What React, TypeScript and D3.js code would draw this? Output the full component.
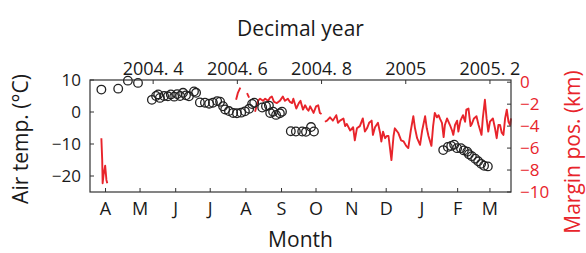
import * as d3 from "d3";

// ---------- Data ----------

// Air temperature samples: [decimal year, °C]
const tempTime = [
  2004.277, 2004.317, 2004.34, 2004.364, 2004.397, 2004.407, 2004.412, 2004.416,
  2004.426, 2004.435, 2004.442, 2004.45, 2004.457, 2004.464, 2004.471, 2004.478,
  2004.485, 2004.497, 2004.502, 2004.511, 2004.523, 2004.533, 2004.542, 2004.552,
  2004.559, 2004.566, 2004.571, 2004.58, 2004.59, 2004.599, 2004.609, 2004.618,
  2004.628, 2004.635, 2004.64, 2004.659, 2004.668, 2004.675, 2004.678, 2004.685,
  2004.692, 2004.701, 2004.706, 2004.727, 2004.739, 2004.754, 2004.763, 2004.775,
  2004.782, 2005.089, 2005.1, 2005.108, 2005.115, 2005.122, 2005.131, 2005.138,
  2005.146, 2005.15, 2005.157, 2005.165, 2005.172, 2005.179, 2005.186, 2005.195,
];
const tempValue = [
  7.0, 7.3, 9.8, 9.1, 3.8, 5.0, 5.5, 4.4,
  5.0, 4.9, 5.5, 4.8, 5.6, 5.0, 6.0, 5.2,
  4.9, 6.4, 6.0, 3.0, 2.9, 2.6, 2.9, 3.4,
  3.2, 1.8, 0.8, 0.3, -0.3, -0.4, -0.2, 0.2,
  1.0, 2.5, 2.9, 1.4, 1.8, 2.0, -0.3, 0.1,
  -0.9, -0.4, 0.1, -6.0, -6.1, -6.1, -6.2, -4.7,
  -6.1, -11.9, -10.9, -10.6, -10.2, -11.3, -11.3, -12.0,
  -12.4, -13.2, -13.8, -14.6, -15.4, -16.2, -16.8, -17.0,
];

// Glacier margin position, in separate runs: [decimal year, km]
const marginRunA: [number, number][] = [
  [2004.277, -5.1], [2004.279, -7.1], [2004.28, -9.2], [2004.282, -8.5],
  [2004.286, -7.6], [2004.289, -8.9], [2004.291, -9.2],
];
const marginRunB: [number, number][] = [
  [2004.597, -1.6], [2004.601, -1.0], [2004.607, -0.5],
];
const marginRunC: [number, number][] = [
  [2004.623, -1.0], [2004.628, -1.4],
];
const marginRunD: [number, number][] = [
  [2004.642, -2.7], [2004.649, -1.7], [2004.654, -1.5], [2004.661, -1.7],
  [2004.666, -1.5], [2004.673, -1.7], [2004.678, -1.4], [2004.682, -1.3],
  [2004.687, -1.8], [2004.694, -1.9], [2004.701, -1.7], [2004.708, -1.3],
  [2004.713, -1.7], [2004.72, -1.5], [2004.725, -1.8], [2004.73, -1.9],
  [2004.733, -1.5], [2004.74, -2.4], [2004.746, -1.9], [2004.75, -1.7],
  [2004.756, -2.5], [2004.761, -2.1], [2004.765, -2.4], [2004.769, -2.6],
  [2004.773, -2.2], [2004.777, -2.5], [2004.781, -2.8], [2004.787, -2.2],
  [2004.792, -2.1], [2004.796, -2.8], [2004.8, -2.9],
];
const marginRunE: [number, number][] = [
  [2004.808, -3.6], [2004.813, -3.5], [2004.82, -3.2], [2004.827, -3.5],
  [2004.835, -3.0], [2004.839, -3.7], [2004.844, -3.5], [2004.852, -3.3],
  [2004.856, -4.0], [2004.86, -3.8], [2004.868, -4.4], [2004.875, -4.1],
  [2004.879, -5.3], [2004.884, -4.2], [2004.891, -4.0], [2004.898, -3.3],
  [2004.903, -4.5], [2004.908, -4.2], [2004.913, -3.7], [2004.919, -3.5],
  [2004.922, -4.8], [2004.927, -4.1], [2004.934, -3.7], [2004.939, -4.6],
  [2004.942, -5.4], [2004.946, -4.5], [2004.951, -5.1], [2004.955, -4.9],
  [2004.959, -4.9], [2004.966, -7.1], [2004.971, -4.9], [2004.974, -4.2],
  [2004.982, -4.6], [2004.989, -5.3], [2004.995, -5.4], [2005.001, -5.8],
  [2005.006, -6.0], [2005.012, -4.4], [2005.018, -3.1], [2005.022, -4.2],
  [2005.027, -5.1], [2005.034, -5.7], [2005.039, -4.4], [2005.046, -3.1],
  [2005.05, -4.2], [2005.054, -4.9], [2005.061, -5.8], [2005.065, -4.0],
  [2005.069, -2.8], [2005.074, -3.2], [2005.078, -3.0], [2005.081, -3.3],
  [2005.086, -3.7], [2005.09, -5.0], [2005.093, -3.9], [2005.098, -3.3],
  [2005.105, -3.9], [2005.11, -4.4], [2005.113, -4.8], [2005.117, -3.9],
  [2005.122, -3.5], [2005.125, -4.5], [2005.13, -3.5], [2005.136, -3.0],
  [2005.141, -3.6], [2005.144, -2.5], [2005.149, -2.4], [2005.154, -4.0],
  [2005.157, -3.8], [2005.162, -3.3], [2005.168, -3.1], [2005.173, -3.9],
  [2005.18, -4.8], [2005.183, -3.3], [2005.188, -1.6], [2005.192, -3.3],
  [2005.196, -4.5], [2005.2, -3.6], [2005.207, -3.3], [2005.212, -4.2],
  [2005.216, -5.1], [2005.22, -3.9], [2005.224, -3.9], [2005.228, -4.6],
  [2005.232, -4.8], [2005.236, -3.3], [2005.24, -2.5], [2005.244, -3.6],
  [2005.248, -3.9], [2005.25, -3.3],
];
const marginRuns = [marginRunA, marginRunB, marginRunC, marginRunD, marginRunE];

// Axis ticks
const monthLabels = ["A", "M", "J", "J", "A", "S", "O", "N", "D", "J", "F", "M"];
const yearTicks = [2004.4, 2004.6, 2004.8, 2005.0, 2005.2];
const yearTickLabels = ["2004. 4", "2004. 6", "2004. 8", "2005", "2005. 2"];
const tempTicks = [10, 0, -10, -20];
const marginTicks = [0, -2, -4, -6, -8, -10];

// ---------- Layout ----------

const W = 586;
const H = 253;
const PLOT = { left: 90, right: 511, top: 80, bottom: 192 };
const FONT = "'Open Sans', 'DejaVu Sans', sans-serif";
const RED = "#e8242b";
const INK = "#1a1a1a";
const TICK = 4;
const TICK_FONT = 17;

// decimal year of the 15th of each month from April 2004
function midMonth(i: number): number {
  const d = new Date(2004, 3 + i, 15);
  const y = d.getFullYear();
  const a = new Date(y, 0, 1).getTime();
  const b = new Date(y + 1, 0, 1).getTime();
  return y + (d.getTime() - a) / (b - a);
}

export default function App() {
  const x = d3.scaleLinear().domain([2004.25, 2005.25]).range([PLOT.left, PLOT.right]);
  const yT = d3.scaleLinear().domain([-25, 10]).range([PLOT.bottom, PLOT.top]);
  const yM = d3.scaleLinear().domain([-10, 0.2]).range([PLOT.bottom, PLOT.top]);
  const fmt = d3.format("d");

  const line = d3
    .line<[number, number]>()
    .x((d) => x(d[0]))
    .y((d) => yM(d[1]));

  const monthPos = monthLabels.map((_, i) => midMonth(i));
  const midX = (PLOT.left + PLOT.right) / 2;

  return (
    <svg
      width={W}
      height={H}
      style={{ position: "absolute", left: 0, top: 0, background: "#fff" }}
      fontFamily={FONT}
    >
      {/* margin position line */}
      <g fill="none" stroke={RED} strokeWidth={1.9} strokeLinejoin="round">
        {marginRuns.map((run, i) => (
          <path key={i} d={line(run) ?? ""} />
        ))}
      </g>

      {/* air temperature circles */}
      <g fill="none" stroke="#222" strokeWidth={1.3}>
        {tempTime.map((t, i) => (
          <circle key={i} cx={x(t)} cy={yT(tempValue[i])} r={4.3} />
        ))}
      </g>

      {/* frame */}
      <rect
        x={PLOT.left}
        y={PLOT.top}
        width={PLOT.right - PLOT.left}
        height={PLOT.bottom - PLOT.top}
        fill="none"
        stroke="#333"
        strokeWidth={1.2}
      />

      {/* inward ticks on all four sides */}
      <g stroke="#333" strokeWidth={1}>
        {monthPos.map((m, i) => (
          <line key={i} x1={x(m)} x2={x(m)} y1={PLOT.bottom} y2={PLOT.bottom - TICK} />
        ))}
        {yearTicks.map((t, i) => (
          <line key={i} x1={x(t)} x2={x(t)} y1={PLOT.top} y2={PLOT.top + TICK} />
        ))}
        {tempTicks.map((v, i) => (
          <line key={i} x1={PLOT.left} x2={PLOT.left + TICK} y1={yT(v)} y2={yT(v)} />
        ))}
        {marginTicks.map((v, i) => (
          <line key={i} x1={PLOT.right} x2={PLOT.right - TICK} y1={yM(v)} y2={yM(v)} />
        ))}
      </g>

      <g fontSize={TICK_FONT + 1} fill={INK} textAnchor="middle">
        {monthPos.map((m, i) => (
          <text key={i} x={x(m)} y={PLOT.bottom + 23}>
            {monthLabels[i]}
          </text>
        ))}
        {yearTicks.map((t, i) => (
          <text key={i} x={x(t)} y={PLOT.top - 5}>
            {yearTickLabels[i]}
          </text>
        ))}
      </g>

      <g fontSize={TICK_FONT} fill={INK} textAnchor="end">
        {tempTicks.map((v, i) => (
          <text key={i} x={PLOT.left - 9} y={yT(v)} dy="0.35em">
            {fmt(v)}
          </text>
        ))}
      </g>

      <g fontSize={TICK_FONT} fill={RED} textAnchor="start">
        {marginTicks.map((v, i) => (
          <text key={i} x={PLOT.right + 9} y={yM(v)} dy="0.35em">
            {fmt(v)}
          </text>
        ))}
      </g>

      {/* axis titles */}
      <g fontSize={21} textAnchor="middle">
        <text x={midX} y={36} fill={INK}>
          Decimal year
        </text>
        <text x={midX} y={247} fill={INK}>
          Month
        </text>
        <text transform={`translate(28,${(PLOT.top + PLOT.bottom) / 2 + 3}) rotate(-90)`} fill={INK}>
          Air temp. (°C)
        </text>
        <text transform={`translate(580,152) rotate(-90)`} fill={RED}>
          Margin pos. (km)
        </text>
      </g>
    </svg>
  );
}
